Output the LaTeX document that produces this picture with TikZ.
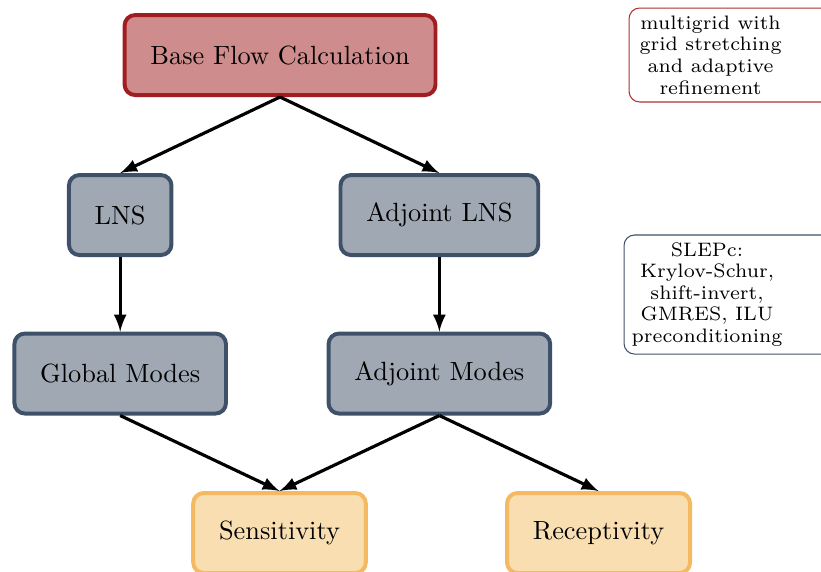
\documentclass[tikz,border=0pt]{standalone}
\usepackage{tikz}
\usetikzlibrary{arrows}

\definecolor{baseFill}{RGB}{207,140,140}
\definecolor{baseDraw}{RGB}{160,30,34}
\definecolor{lnsFill}{RGB}{160,169,179}
\definecolor{lnsDraw}{RGB}{62,81,104}
\definecolor{outFill}{RGB}{249,222,177}
\definecolor{outDraw}{RGB}{245,185,97}
\definecolor{gridDraw}{RGB}{176,48,48}

\tikzset{
  block/.style={rectangle, rounded corners=4pt, line width=1.5pt,
    inner xsep=9.8pt, minimum height=1.067cm},
  baseblock/.style={block, draw=baseDraw, fill=baseFill},
  lnsblock/.style={block, draw=lnsDraw, fill=lnsFill},
  outblock/.style={block, draw=outDraw, fill=outFill},
  note/.style={align=center, inner sep=0pt,
    font=\fontsize{7.4}{8.2}\selectfont},
  flow/.style={-latex, very thick}
}

\begin{document}
\begin{tikzpicture}
\clip (0,0) rectangle (10.95,-7.616);

% solver chain
\node[baseblock] (base) at (3.735,-0.734) {Base Flow Calculation};
\node[lnsblock] (lns) at (1.603,-2.868) {LNS};
\node[lnsblock] (adjlns) at (5.860,-2.868) {Adjoint LNS};
\node[lnsblock] (global) at (1.603,-4.982) {Global Modes};
\node[lnsblock] (adjmodes) at (5.860,-4.982) {Adjoint Modes};
\node[outblock] (sens) at (3.728,-7.109) {Sensitivity};
\node[outblock] (recep) at (7.983,-7.109) {Receptivity};

\draw[flow] (base.south) -- (lns.north);
\draw[flow] (base.south) -- (adjlns.north);
\draw[flow] (lns.south) -- (global.north);
\draw[flow] (adjlns.south) -- (adjmodes.north);
\draw[flow] (global.south) -- (sens.north);
\draw[flow] (adjmodes.south) -- (sens.north);
\draw[flow] (adjmodes.south) -- (recep.north);

% side notes
\draw[gridDraw, rounded corners=4pt] (8.390,-0.107) rectangle (11.5,-1.360);
\node[note] (gridnote) at (9.477,-0.734)
  {multigrid with\\grid stretching\\and adaptive\\refinement};

\draw[lnsDraw, rounded corners=4pt] (8.323,-3.134) rectangle (11.5,-4.722);
\node[note] (slepc) at (9.430,-3.928)
  {SLEPc:\\Krylov-Schur,\\shift-invert,\\GMRES, ILU\\preconditioning};
\end{tikzpicture}
\end{document}
